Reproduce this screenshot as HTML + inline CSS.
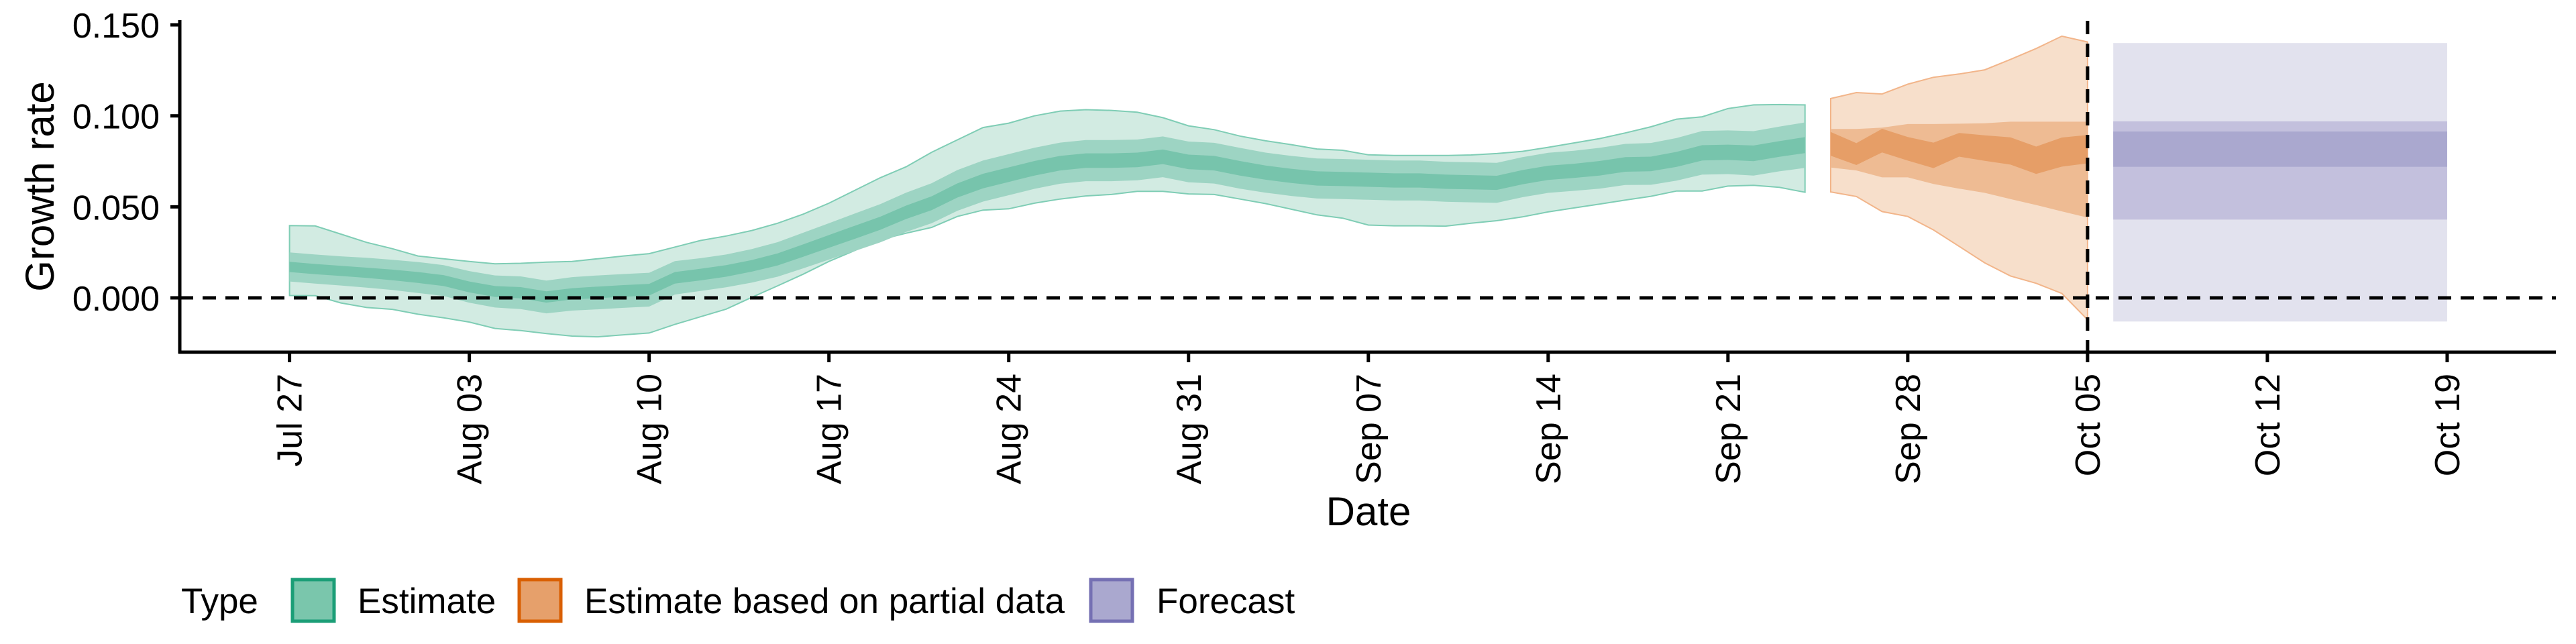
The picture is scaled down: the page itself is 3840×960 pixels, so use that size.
<!DOCTYPE html>
<html><head><meta charset="utf-8"><style>
html,body{margin:0;padding:0;background:#fff;}
svg{display:block;font-family:"Liberation Sans",sans-serif;}
</style></head><body>
<svg id="chart" width="3840" height="960" viewBox="0 0 3840 960" xmlns="http://www.w3.org/2000/svg">
<g id="bands"></g>
<g id="axes"></g>
<g id="legend">
  <text x="270" y="914" font-size="53">Type</text>
  <rect x="436" y="864" width="62" height="62" fill="#7ac6ac" stroke="#1b9e77" stroke-width="5"/>
  <text x="533" y="914" font-size="53">Estimate</text>
  <rect x="774" y="864" width="62" height="62" fill="#e6a06b" stroke="#d95f02" stroke-width="5"/>
  <text x="871" y="914" font-size="53">Estimate based on partial data</text>
  <rect x="1626" y="864" width="62" height="62" fill="#aaa8cf" stroke="#7570b3" stroke-width="5"/>
  <text x="1724" y="914" font-size="53">Forecast</text>
</g>
</svg>
<script>
const estMedian=[0.017,0.0158,0.0148,0.0138,0.0126,0.0112,0.0095,0.006,0.0035,0.0028,0.0005,0.0022,0.003,0.0038,0.0045,0.011,0.0128,0.0148,0.0176,0.0211,0.026,0.031,0.036,0.041,0.047,0.052,0.059,0.0642,0.0677,0.0712,0.074,0.0754,0.0754,0.0758,0.0775,0.0747,0.074,0.0712,0.0688,0.067,0.0656,0.0653,0.0649,0.0645,0.0645,0.0638,0.0635,0.0632,0.0663,0.0687,0.0698,0.0712,0.0733,0.0736,0.0761,0.0797,0.08,0.0794,0.0818,0.0839];
const estUpper90=[0.0397,0.0395,0.035,0.0305,0.027,0.023,0.0215,0.020,0.0187,0.019,0.0196,0.020,0.0215,0.023,0.0243,0.0279,0.0315,0.034,0.037,0.041,0.046,0.052,0.059,0.066,0.072,0.080,0.0868,0.0936,0.096,0.100,0.1026,0.1034,0.1030,0.1020,0.099,0.0945,0.0924,0.0889,0.0863,0.0842,0.0818,0.0811,0.0786,0.0782,0.0782,0.0782,0.0785,0.0793,0.0805,0.0827,0.0851,0.0875,0.0906,0.094,0.0982,0.0995,0.104,0.106,0.1062,0.106];
const estLower90=[0.0013,0.0012,-0.0028,-0.0053,-0.0063,-0.009,-0.011,-0.0133,-0.0168,-0.018,-0.0196,-0.021,-0.0214,-0.0203,-0.0193,-0.0146,-0.0104,-0.0062,0.0003,0.0066,0.013,0.020,0.026,0.032,0.0355,0.0387,0.0447,0.0482,0.0489,0.052,0.0543,0.056,0.0568,0.0585,0.0585,0.0571,0.0568,0.0543,0.0518,0.0487,0.0456,0.0438,0.040,0.0396,0.0396,0.0394,0.041,0.0424,0.0445,0.0472,0.0494,0.0515,0.0537,0.0558,0.0587,0.0587,0.0614,0.0618,0.0607,0.058];
const estHalf50=[0.008,0.008,0.008,0.0082,0.0083,0.0085,0.0085,0.0087,0.0088,0.009,0.009,0.0092,0.0093,0.0093,0.0093,0.0092,0.009,0.009,0.0092,0.0095,0.0098,0.01,0.0103,0.0105,0.0108,0.011,0.0112,0.0113,0.0113,0.0113,0.0113,0.0113,0.0113,0.0112,0.0112,0.0112,0.0112,0.0112,0.011,0.011,0.011,0.011,0.011,0.011,0.011,0.011,0.011,0.011,0.011,0.011,0.011,0.0112,0.0113,0.0115,0.0117,0.012,0.012,0.0122,0.0123,0.0125];
const estHalf20=[0.0028,0.0028,0.0028,0.0028,0.0029,0.003,0.003,0.003,0.003,0.0031,0.0031,0.0031,0.0032,0.0032,0.0032,0.0032,0.0032,0.0032,0.0032,0.0033,0.0034,0.0035,0.0036,0.0036,0.0037,0.0038,0.0039,0.004,0.004,0.004,0.004,0.004,0.004,0.004,0.004,0.004,0.004,0.004,0.0039,0.0039,0.0039,0.0039,0.0039,0.0039,0.0039,0.0039,0.0039,0.0039,0.0039,0.0039,0.0039,0.004,0.004,0.004,0.0041,0.0042,0.0042,0.0043,0.0043,0.0044];
const partMedian=[0.0846,0.079,0.0864,0.0819,0.0783,0.0841,0.0823,0.0807,0.0756,0.0801,0.0817];
const partUpper90=[0.1095,0.1128,0.112,0.1174,0.1212,0.123,0.1253,0.131,0.137,0.1438,0.1406];
const partLower90=[0.0582,0.0557,0.0474,0.0447,0.0373,0.0283,0.0192,0.012,0.008,0.0024,-0.012];
const partUpper50=[0.0928,0.0928,0.0935,0.0955,0.0955,0.0957,0.0959,0.0968,0.0968,0.0968,0.0968];
const partLower50=[0.0716,0.070,0.0662,0.0662,0.0626,0.060,0.0577,0.0543,0.051,0.0475,0.0441];
const partHalf20=[0.0065,0.006,0.0065,0.0065,0.007,0.0065,0.007,0.0075,0.0075,0.008,0.0078];
const forecastDays=[71,84];
const forecastBands=[-0.013,0.140,0.043,0.097,0.072,0.0914];
const yTicks=[0,0.05,0.1,0.15];
const yTickLabels=["0.000","0.050","0.100","0.150"];
const xTickDays=[0,7,14,21,28,35,42,49,56,63,70,77,84];
const xTickLabels=["Jul 27","Aug 03","Aug 10","Aug 17","Aug 24","Aug 31","Sep 07","Sep 14","Sep 21","Sep 28","Oct 05","Oct 12","Oct 19"];
const estStartDay=0, partStartDay=60, dataCutDay=70;

const NS="http://www.w3.org/2000/svg";
const x=d=>431.6+38.29*d;
const y=v=>444-v*2713;
const bands=document.getElementById('bands');
const axes=document.getElementById('axes');
function mk(tag,attrs,parent){const e=document.createElementNS(NS,tag);for(const k in attrs)e.setAttribute(k,attrs[k]);parent.appendChild(e);return e;}
function area(lo,hi,start,fill,stroke,name){
  let pts=[];
  for(let i=0;i<hi.length;i++)pts.push(x(start+i).toFixed(1)+','+y(hi[i]).toFixed(1));
  for(let i=lo.length-1;i>=0;i--)pts.push(x(start+i).toFixed(1)+','+y(lo[i]).toFixed(1));
  const p=mk('polygon',{points:pts.join(' '),fill:fill,stroke:stroke||'none','stroke-width':stroke?2:0},bands);
  
  
}
area(estLower90,estUpper90,estStartDay,'#d2ebe2','#7fcdb5','estimate-band-90');
area(estMedian.map((m,i)=>m-estHalf50[i]),estMedian.map((m,i)=>m+estHalf50[i]),estStartDay,'#9dd4c3',null,'estimate-band-50');
area(estMedian.map((m,i)=>m-estHalf20[i]),estMedian.map((m,i)=>m+estHalf20[i]),estStartDay,'#77c4ac',null,'estimate-band-20');
area(partLower90,partUpper90,partStartDay,'#f7dfcb','#f2b58a','partial-band-90');
area(partLower50,partUpper50,partStartDay,'#eebb93',null,'partial-band-50');
area(partMedian.map((m,i)=>m-partHalf20[i]),partMedian.map((m,i)=>m+partHalf20[i]),partStartDay,'#e69e67',null,'partial-band-20');
const fb=[[forecastBands[0],forecastBands[1],'#e2e2ee','forecast-band-90'],[forecastBands[2],forecastBands[3],'#c3c0dd','forecast-band-50'],[forecastBands[4],forecastBands[5],'#aaa8cf','forecast-band-20']];
fb.forEach(b=>{
  const r=mk('rect',{x:x(forecastDays[0]),y:y(b[1]),width:x(forecastDays[1])-x(forecastDays[0]),height:y(b[0])-y(b[1]),fill:b[2]},bands);
  
  
});
const z=mk('line',{x1:268,x2:3810,y1:y(0),y2:y(0),stroke:'#000','stroke-width':5,'stroke-dasharray':'20 14'},axes);


const vl=mk('line',{x1:x(dataCutDay),x2:x(dataCutDay),y1:31,y2:525,stroke:'#000','stroke-width':5,'stroke-dasharray':'20 14'},axes);


const ya=mk('line',{x1:268,x2:268,y1:30,y2:527,stroke:'#000','stroke-width':5},axes);


const xa=mk('line',{x1:266,x2:3810,y1:525,y2:525,stroke:'#000','stroke-width':5},axes);


yTicks.forEach((v,i)=>{
  const t=mk('line',{x1:254,x2:268,y1:y(v),y2:y(v),stroke:'#000','stroke-width':5},axes);
  
  
  const l=mk('text',{x:238,y:y(v)+19,'font-size':52,'text-anchor':'end'},axes);
  l.textContent=yTickLabels[i];
  
  
});
xTickDays.forEach((d,i)=>{
  const t=mk('line',{x1:x(d),x2:x(d),y1:525,y2:540,stroke:'#000','stroke-width':5},axes);
  
  
  const bx=x(d)+18;
  const l=mk('text',{x:bx,y:557,'font-size':52,'text-anchor':'end',transform:'rotate(-90 '+bx+' 557)'},axes);
  l.textContent=xTickLabels[i];
  
  
});
const yt=mk('text',{x:80,y:278,'font-size':60,'text-anchor':'middle',transform:'rotate(-90 80 278)'},axes);
yt.textContent='Growth rate';


const xt=mk('text',{x:2040,y:783,'font-size':60,'text-anchor':'middle'},axes);
xt.textContent='Date';


</script>
</body></html>
